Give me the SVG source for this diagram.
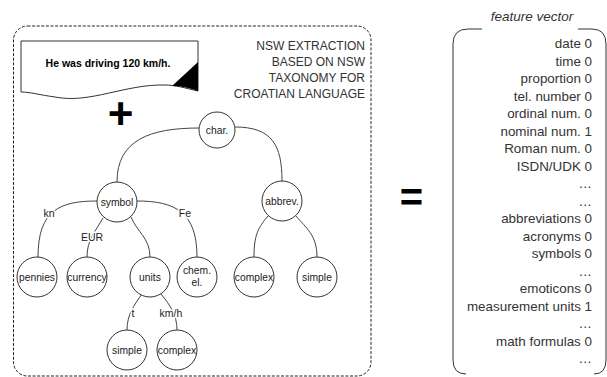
<svg xmlns="http://www.w3.org/2000/svg" width="607" height="377" viewBox="0 0 607 377">
<style>
.frame{fill:none;stroke:#222;stroke-width:1;stroke-dasharray:3 1.6}
.node circle{fill:#fff;stroke:#333;stroke-width:1}
.node text{font-family:"Liberation Sans",Arial,sans-serif;font-size:10.3px;fill:#222;text-anchor:middle}
.edge{fill:none;stroke:#444;stroke-width:1}
.elabel{font-family:"Liberation Sans",Arial,sans-serif;font-size:10.5px;fill:#222;text-anchor:middle;stroke:#fff;stroke-width:3px;paint-order:stroke;stroke-linejoin:round}
.title{font-family:"Liberation Sans",Arial,sans-serif;font-size:12px;fill:#333;text-anchor:end}
.vec{font-family:"Liberation Sans",Arial,sans-serif;font-size:13.4px;fill:#333;text-anchor:end}
.op{font-family:"Liberation Sans",Arial,sans-serif;font-weight:bold;fill:#000;text-anchor:middle}
</style>
<rect class="frame" x="13.5" y="26" width="357.5" height="350" rx="14" ry="14"/>
<g id="document">
<path d="M21,41 H198 V91 C185,88 175,85 165,85 C125,84 90,104 55,97 C40,95 30,92 21,92 Z" fill="#fff" stroke="#333" stroke-width="1"/>
<path d="M198,62 L172,86 C182,86 190,88 198,91 Z" fill="#000"/>
<text x="108" y="67" font-family="'Liberation Sans',Arial,sans-serif" font-size="10.5" font-weight="bold" fill="#000" text-anchor="middle">He was driving 120 km/h.</text>
</g>
<text class="op" x="120.5" y="129" font-size="44">+</text>
<g id="title">
<text class="title" x="365" y="50">NSW EXTRACTION</text>
<text class="title" x="365" y="66">BASED ON NSW</text>
<text class="title" x="365" y="82">TAXONOMY FOR</text>
<text class="title" x="365" y="98">CROATIAN LANGUAGE</text>
</g>
<g id="connectors">
<path class="edge" d="M199,128 C150,128 117,140 117,182"/>
<path class="edge" d="M235,127 C272,127 282,145 282,181"/>
<path class="edge" d="M97,201 C60,201 38,210 38,257"/>
<path class="edge" d="M103,218 C95,232 87,240 87,257"/>
<path class="edge" d="M131,217 C137,232 150,238 150,257"/>
<path class="edge" d="M137,201 C175,201 197,212 197,257"/>
<path class="edge" d="M268,216 C258,228 254,235 254,257"/>
<path class="edge" d="M296,216 C306,228 317,235 317,257"/>
<path class="edge" d="M142,294 C134,305 127,315 127,330"/>
<path class="edge" d="M161,294 C170,305 177,315 177,330"/>
<text class="elabel" x="49" y="217">kn</text>
<text class="elabel" x="92" y="241">EUR</text>
<text class="elabel" x="185" y="217">Fe</text>
<text class="elabel" x="133" y="317">t</text>
<text class="elabel" x="171" y="317">km/h</text>
</g>
<g id="n-char" class="node"><circle cx="217" cy="130" r="18"/><text x="217" y="134">char.</text></g>
<g id="n-symbol" class="node"><circle cx="117" cy="202" r="20"/><text x="117" y="206">symbol</text></g>
<g id="n-abbrev" class="node"><circle cx="282" cy="201" r="20"/><text x="282" y="205">abbrev.</text></g>
<g id="n-pennies" class="node"><circle cx="37" cy="277" r="20"/><text x="37" y="281">pennies</text></g>
<g id="n-currency" class="node"><circle cx="87" cy="277" r="20"/><text x="87" y="281">currency</text></g>
<g id="n-units" class="node"><circle cx="150" cy="277" r="20"/><text x="150" y="281">units</text></g>
<g id="n-chem" class="node"><circle cx="197" cy="277" r="20"/><text x="197" y="274">chem.</text><text x="197" y="286">el.</text></g>
<g id="n-complex-a" class="node"><circle cx="254" cy="277" r="20"/><text x="254" y="281">complex</text></g>
<g id="n-simple-a" class="node"><circle cx="317" cy="277" r="20"/><text x="317" y="281">simple</text></g>
<g id="n-simple-u" class="node"><circle cx="127" cy="350" r="20"/><text x="127" y="354">simple</text></g>
<g id="n-complex-u" class="node"><circle cx="177" cy="350" r="20"/><text x="177" y="354">complex</text></g>
<text class="op" x="411.5" y="211" font-size="40">=</text>
<g id="feature-vector">
<text x="532" y="21" font-family="'Liberation Sans',Arial,sans-serif" font-size="13.5" font-style="italic" fill="#333" text-anchor="middle">feature vector</text>
<path d="M482,29 H468 Q453,29 453,44 V360 Q453,374 466,374" fill="none" stroke="#333" stroke-width="1"/>
<path d="M578,29 H592 Q606,29 606,44 V360 Q606,374 594,374" fill="none" stroke="#333" stroke-width="1"/>
<text class="vec" x="592" y="48">date 0</text>
<text class="vec" x="592" y="65.5">time 0</text>
<text class="vec" x="592" y="83">proportion 0</text>
<text class="vec" x="592" y="100.5">tel. number 0</text>
<text class="vec" x="592" y="118">ordinal num. 0</text>
<text class="vec" x="592" y="135.5">nominal num. 1</text>
<text class="vec" x="592" y="153">Roman num. 0</text>
<text class="vec" x="592" y="170.5">ISDN/UDK 0</text>
<text class="vec" x="592" y="188">…</text>
<text class="vec" x="592" y="205.5">…</text>
<text class="vec" x="592" y="223">abbreviations 0</text>
<text class="vec" x="592" y="240.5">acronyms 0</text>
<text class="vec" x="592" y="258">symbols 0</text>
<text class="vec" x="592" y="275.5">…</text>
<text class="vec" x="592" y="293">emoticons 0</text>
<text class="vec" x="592" y="310.5">measurement units 1</text>
<text class="vec" x="592" y="328">…</text>
<text class="vec" x="592" y="345.5">math formulas 0</text>
<text class="vec" x="592" y="363">…</text>
</g>
</svg>
